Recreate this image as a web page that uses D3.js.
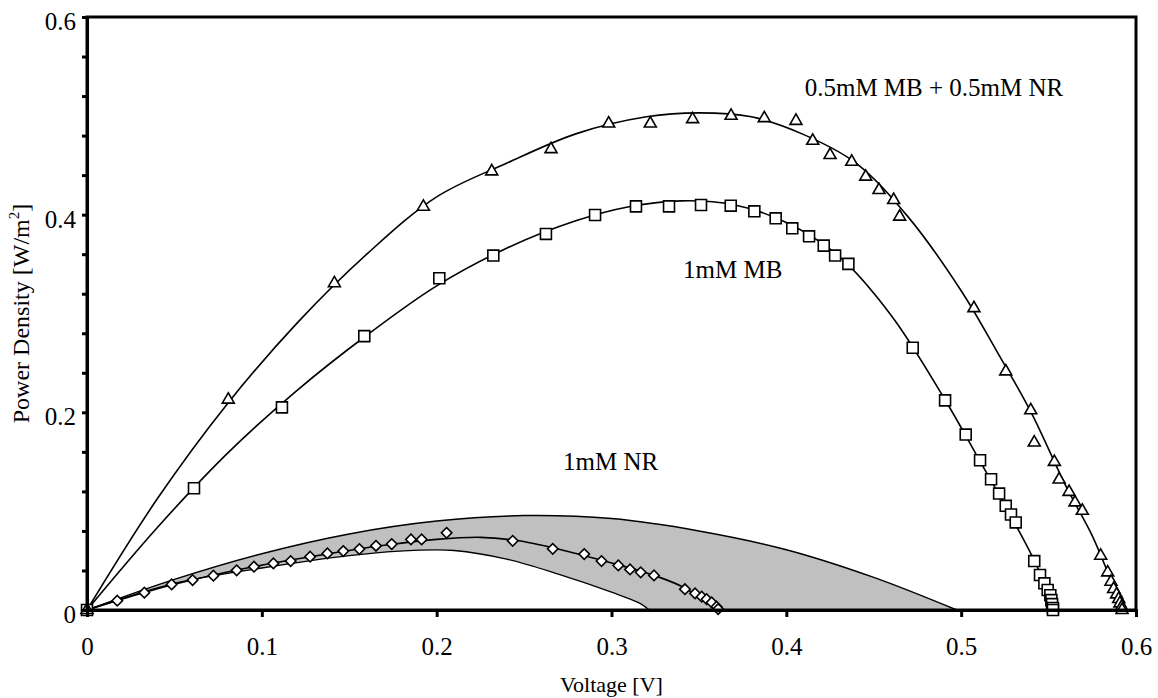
<!DOCTYPE html>
<html>
<head>
<meta charset="utf-8">
<script src="https://cdn.jsdelivr.net/npm/d3@7"></script>
<style>
  body { margin: 0; background: #fff; }
  text { font-family: "Liberation Serif", "Times New Roman", serif; fill: #000; }
</style>
</head>
<body>
<div id="chart"></div>
<script>
// measured points, 0.5mM MB + 0.5mM NR (triangles)
var triV = [0, 0.0808, 0.1415, 0.1924, 0.2315, 0.2654, 0.2984, 0.3222, 0.3464, 0.3684, 0.3874, 0.4055, 0.4151, 0.425, 0.4374, 0.4454, 0.453, 0.4614, 0.4648, 0.5073, 0.5255, 0.5398, 0.5418, 0.5533, 0.556, 0.5617, 0.5651, 0.5693, 0.5798, 0.5838, 0.5857, 0.5872, 0.5889, 0.5901, 0.5908, 0.5918, 0.592]
var triP = [0, 0.2128, 0.3306, 0.408, 0.4438, 0.4663, 0.4922, 0.4922, 0.4966, 0.5, 0.4976, 0.4949, 0.4747, 0.4603, 0.4535, 0.4384, 0.4249, 0.4148, 0.398, 0.3054, 0.2414, 0.202, 0.1694, 0.1498, 0.132, 0.1195, 0.1088, 0.1003, 0.0549, 0.038, 0.0286, 0.0212, 0.0158, 0.0111, 0.0067, 0.0033, 0]

// 1mM MB (squares)
var sqV = [0, 0.0612, 0.1115, 0.1586, 0.2015, 0.2324, 0.2625, 0.2906, 0.314, 0.3329, 0.3512, 0.3682, 0.3817, 0.3939, 0.4034, 0.413, 0.4214, 0.4279, 0.4355, 0.4723, 0.4908, 0.5026, 0.5108, 0.5171, 0.5217, 0.5255, 0.5285, 0.5312, 0.5418, 0.5451, 0.5476, 0.5495, 0.551, 0.5516, 0.552, 0.5525, 0.5525]
var sqP = [0, 0.1232, 0.205, 0.2771, 0.3357, 0.3586, 0.3805, 0.3997, 0.4084, 0.4084, 0.4098, 0.4091, 0.4034, 0.3963, 0.3862, 0.3781, 0.3687, 0.3586, 0.3502, 0.2653, 0.2121, 0.1775, 0.1515, 0.1323, 0.1178, 0.1054, 0.0966, 0.0886, 0.0495, 0.0354, 0.027, 0.0202, 0.015, 0.01, 0.006, 0.002, 0]

// 1mM NR (diamonds)
var diaV = [0, 0.0173, 0.0328, 0.0484, 0.0604, 0.0723, 0.0856, 0.0955, 0.1066, 0.1165, 0.1276, 0.1375, 0.1466, 0.1558, 0.1653, 0.1743, 0.1853, 0.1914, 0.2057, 0.2435, 0.2664, 0.2844, 0.2943, 0.3039, 0.3106, 0.3167, 0.3243, 0.342, 0.3478, 0.3516, 0.3544, 0.3573, 0.3601, 0.361]
var diaP = [0, 0.0094, 0.0175, 0.0259, 0.0303, 0.0347, 0.0401, 0.0438, 0.0471, 0.0495, 0.0539, 0.0572, 0.0596, 0.0616, 0.065, 0.0667, 0.0714, 0.0714, 0.0781, 0.07, 0.0619, 0.0566, 0.0495, 0.0451, 0.0411, 0.0381, 0.035, 0.021, 0.0168, 0.0135, 0.011, 0.0077, 0.0034, 0.001]

// fitted curves
var fitTriV = [0, 0.04, 0.08, 0.12, 0.16, 0.2, 0.24, 0.28, 0.32, 0.35, 0.38, 0.41, 0.44, 0.47, 0.5, 0.52, 0.54, 0.56, 0.575, 0.585, 0.5925]
var fitTriP = [0, 0.112, 0.208, 0.29, 0.36, 0.418, 0.452, 0.482, 0.499, 0.503, 0.499, 0.481, 0.452, 0.397, 0.323, 0.263, 0.2, 0.125, 0.075, 0.033, 0]
var fitSqV = [0, 0.04, 0.08, 0.12, 0.16, 0.2, 0.24, 0.28, 0.31, 0.34, 0.37, 0.4, 0.43, 0.46, 0.49, 0.51, 0.53, 0.545, 0.5525]
var fitSqP = [0, 0.083, 0.158, 0.222, 0.278, 0.328, 0.366, 0.394, 0.408, 0.414, 0.41, 0.392, 0.358, 0.298, 0.215, 0.153, 0.09, 0.038, 0]
var fitNrV = [0, 0.02, 0.05, 0.09, 0.13, 0.17, 0.2, 0.225, 0.245, 0.27, 0.3, 0.32, 0.34, 0.361]
var fitNrP = [0, 0.011, 0.026, 0.042, 0.0545, 0.0655, 0.0715, 0.0735, 0.0705, 0.0615, 0.0475, 0.0375, 0.024, 0]

// shaded band edges
var bandHiV = [0, 0.05, 0.1, 0.15, 0.2, 0.25, 0.3, 0.35, 0.4, 0.45, 0.4975]
var bandHiP = [0, 0.031, 0.057, 0.077, 0.09, 0.0955, 0.0925, 0.08, 0.061, 0.033, 0]
var bandLoV = [0, 0.05, 0.1, 0.15, 0.19, 0.21, 0.24, 0.27, 0.3, 0.3163, 0.3215]
var bandLoP = [0, 0.027, 0.0425, 0.055, 0.0605, 0.0602, 0.0515, 0.036, 0.018, 0.0067, 0]

var xTicks = [0, 0.1, 0.2, 0.3, 0.4, 0.5, 0.6]
var yTicks = [0, 0.2, 0.4, 0.6]

var width = 1158,
    height = 698
var padL = 87, padR = 1136, padT = 17, padB = 610
var serif = "'Liberation Serif', 'Times New Roman', serif"

var svg = d3.select("#chart").append("svg")
            .attr("width", width)
            .attr("height", height)

var x = d3.scaleLinear().domain([0, 0.6]).range([padL, padR])
var y = d3.scaleLinear().domain([0, 0.6]).range([padB, padT])

function pts(vs, ps) { return vs.map(function(v, i) { return [v, ps[i]] }) }

var line = d3.line()
             .x(function(d) { return x(d[0]) })
             .y(function(d) { return y(d[1]) })
             .curve(d3.curveCatmullRom.alpha(0.5))

var area = d3.area()
             .x(function(d) { return x(d[0]) })
             .y0(y(0))
             .y1(function(d) { return y(d[1]) })
             .curve(d3.curveCatmullRom.alpha(0.5))

// band: grey under the upper edge, then white under the lower edge
svg.append("path").attr("d", area(pts(bandHiV, bandHiP))).attr("fill", "#c0c0c0")
svg.append("path").attr("d", area(pts(bandLoV, bandLoP))).attr("fill", "#fff")
svg.append("path").attr("d", line(pts(bandHiV, bandHiP)))
   .attr("fill", "none").attr("stroke", "#000").attr("stroke-width", 1.5)
svg.append("path").attr("d", line(pts(bandLoV, bandLoP)))
   .attr("fill", "none").attr("stroke", "#000").attr("stroke-width", 1.3)

// fit lines
;[[fitTriV, fitTriP], [fitSqV, fitSqP], [fitNrV, fitNrP]].forEach(function(f) {
    svg.append("path").attr("d", line(pts(f[0], f[1])))
       .attr("fill", "none").attr("stroke", "#000").attr("stroke-width", 1.6)
})

// markers
function drawMarkers(vs, ps, sym, size, rot) {
    svg.append("g").selectAll("path")
       .data(pts(vs, ps))
       .enter().append("path")
       .attr("d", d3.symbol().type(sym).size(size))
       .attr("transform", function(d) { return "translate(" + x(d[0]) + "," + y(d[1]) + ") rotate(" + rot + ")" })
       .attr("fill", "#fff")
       .attr("stroke", "#000")
       .attr("stroke-width", 1.6)
}
drawMarkers(diaV, diaP, d3.symbolSquare, 55, 45)
drawMarkers(sqV, sqP, d3.symbolSquare, 120, 0)
drawMarkers(triV, triP, d3.symbolTriangle, 62, 0)

// frame
svg.append("rect")
   .attr("x", padL).attr("y", padT)
   .attr("width", padR - padL).attr("height", padB - padT)
   .attr("fill", "none").attr("stroke", "#000").attr("stroke-width", 3)

var xAxis = svg.append("g")
               .attr("transform", "translate(0," + padB + ")")
               .call(d3.axisBottom(x).tickValues(xTicks).tickSize(7).tickPadding(20).tickFormat(d3.format("~g")))
var yAxis = svg.append("g")
               .attr("transform", "translate(" + padL + ",0)")
               .call(d3.axisLeft(y).tickValues(d3.range(0, 0.6001, 0.04)).tickSize(5).tickPadding(6)
                     .tickFormat(function(d) {
                         var k = Math.round(d / 0.04)
                         return k % 5 == 0 ? d3.format("~g")(Math.round(d * 10) / 10) : ""
                     }))

;[xAxis, yAxis].forEach(function(a) {
    a.select(".domain").attr("stroke-width", 3)
    a.selectAll(".tick line").attr("stroke-width", 3)
    a.selectAll("text").style("font-size", "25px").style("font-family", serif)
})
yAxis.selectAll("text").attr("dy", "0.5em")

// axis titles
svg.append("text")
   .attr("x", (padL + padR) / 2).attr("y", 692)
   .attr("text-anchor", "middle")
   .style("font-size", "22px").style("font-family", serif)
   .text("Voltage [V]")

var yt = svg.append("text")
   .attr("transform", "translate(29," + (padT + padB) / 2 + ") rotate(-90)")
   .attr("text-anchor", "middle")
   .style("font-size", "24px").style("font-family", serif)
yt.append("tspan").text("Power Density [W/m")
yt.append("tspan").style("font-size", "15px").attr("dy", -10).text("2")
yt.append("tspan").attr("dy", 10).text("]")

// series labels
var labels = [
    { t: "0.5mM MB + 0.5mM NR", v: 0.4105, p: 0.5196 },
    { t: "1mM MB", v: 0.3409, p: 0.3364 },
    { t: "1mM NR", v: 0.2723, p: 0.1414 }
]
svg.selectAll(".lbl").data(labels).enter().append("text")
   .attr("class", "lbl")
   .attr("x", function(d) { return x(d.v) })
   .attr("y", function(d) { return y(d.p) })
   .style("font-size", "25px").style("font-family", serif)
   .text(function(d) { return d.t })
</script>
</body>
</html>
